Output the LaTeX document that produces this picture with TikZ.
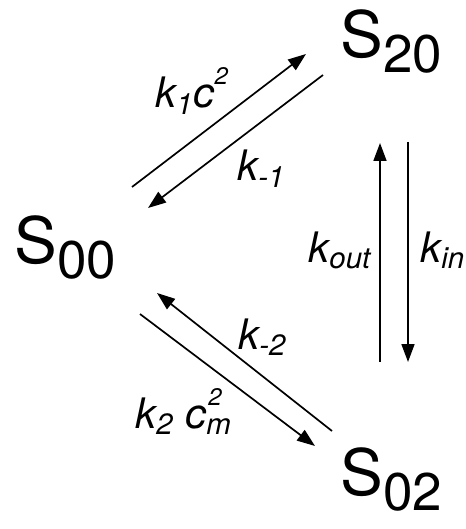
\documentclass[tikz,border=0pt]{standalone}
\usepackage{fontspec}
\setmainfont{TeX Gyre Heros}
\usetikzlibrary{arrows.meta}

\tikzset{
  state/.style={inner sep=0pt, anchor=base west, font=\fontsize{32}{36}\selectfont},
  rate/.style={inner sep=0pt, anchor=base west, font=\fontsize{21}{24}\selectfont\itshape},
  react/.style={line width=0.85pt, -{Triangle[length=9pt,width=6.5pt]}}
}
\newcommand{\stsub}[1]{\raisebox{-7.5pt}{\fontsize{26.5}{30}\selectfont #1}}
\newcommand{\sqr}[1]{\raisebox{11.5pt}{\fontsize{12}{13}\selectfont #1}}

\begin{document}
\begin{tikzpicture}[x=0.5pt,y=-0.5pt]
\useasboundingbox (0,0) rectangle (465,529);

\node[state] (S00) at (14,263) {S\stsub{00}};
\node[state] (S20) at (340,58) {S\stsub{20}};
\node[state] (S02) at (340,495) {S\stsub{02}};

\coordinate (f1s) at (132,187);
\coordinate (f1e) at (306,54);
\coordinate (r1s) at (323,75);
\coordinate (r1e) at (148,208);
\coordinate (outs) at (380,362);
\coordinate (oute) at (380,143);
\coordinate (ins) at (408,142);
\coordinate (ine) at (408,362);
\coordinate (r2s) at (332,431);
\coordinate (r2e) at (157,293);
\coordinate (f2s) at (140,314);
\coordinate (f2e) at (315,446);

\draw[react] (f1s) -- (f1e);
\draw[react] (r1s) -- (r1e);
\draw[react] (outs) -- (oute);
\draw[react] (ins) -- (ine);
\draw[react] (r2s) -- (r2e);
\draw[react] (f2s) -- (f2e);

\node[rate] (kf1) at (155,108) {k\textsubscript{1}c\sqr{2}};
\node[rate] (kr1) at (237,181) {k\textsubscript{-1}};
\node[rate] (kout) at (308,262) {k\textsubscript{out}};
\node[rate] (kin) at (420,262) {k\textsubscript{in}};
\node[rate] (kr2) at (238,349) {k\textsubscript{-2}};
\node[rate] (kf2) at (135,428) {k\textsubscript{2} c\makebox[0pt][l]{\hspace{1pt}\sqr{2}}\textsubscript{m}};
\end{tikzpicture}
\end{document}
